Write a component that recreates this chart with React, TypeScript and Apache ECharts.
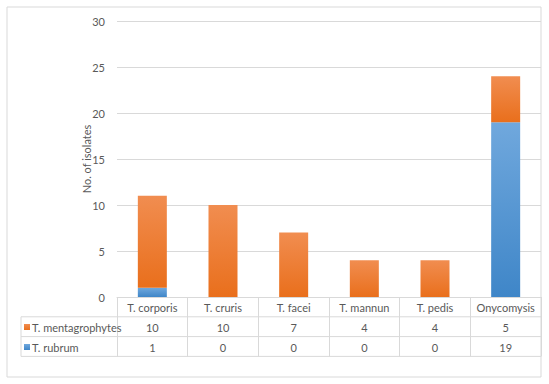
import React, { useEffect, useRef } from "react";
import * as echarts from "echarts";

const categories = ["T. corporis", "T. cruris", "T. facei", "T. mannun", "T. pedis", "Onycomysis"];
const mentagrophytes = [10, 10, 7, 4, 4, 5];
const rubrum = [1, 0, 0, 0, 0, 19];
const seriesNames = ["T. mentagrophytes", "T. rubrum"];
const yTitle = "No. of isolates";

const FONT = "Lato, 'Liberation Sans Narrow', sans-serif";
const TXT = "#595959";
const LINE = "#D9D9D9";

export default function App() {
  const ref = useRef<HTMLDivElement>(null);
  useEffect(() => {
    document.body.style.margin = "0";
    const chart = echarts.init(ref.current!, null, { renderer: "svg" });
    const orange = new echarts.graphic.LinearGradient(0, 0, 0, 1, [
      { offset: 0, color: "#F18D50" },
      { offset: 1, color: "#E96F1C" },
    ]);
    const blue = new echarts.graphic.LinearGradient(0, 0, 0, 1, [
      { offset: 0, color: "#70A8DD" },
      { offset: 1, color: "#3F86C8" },
    ]);
    const tableTop = 297;
    const rowH = 19.8;
    const leftX = 21;
    const rightX = 541;
    chart.setOption({
      animation: false,
      textStyle: { fontFamily: FONT },
      grid: { left: 117, right: 8, top: 21, bottom: 87 },
      legend: {
        orient: "vertical",
        left: 19,
        top: 316,
        itemWidth: 6,
        itemHeight: 6,
        itemGap: 8,
        icon: "rect",
        data: [seriesNames[0], seriesNames[1]],
        textStyle: { color: TXT, fontSize: 11, fontFamily: FONT, lineHeight: 12, padding: [0, 0, 0, -3] },
        selectedMode: false,
      },
      xAxis: {
        type: "category",
        data: categories,
        axisLine: { show: true, lineStyle: { color: LINE } },
        axisTick: { show: true, length: rowH * 3, interval: 0, lineStyle: { color: LINE } },
        axisLabel: {
          interval: 0,
          margin: 1,
          formatter: (v: string, i: number) =>
            `{a|${v}}\n{a|${mentagrophytes[i]}}\n{a|${rubrum[i]}}`,
          rich: {
            a: { fontSize: 11, lineHeight: rowH, color: TXT, fontFamily: FONT },
          },
        },
      },
      yAxis: {
        type: "value",
        min: 0,
        max: 30,
        interval: 5,
        name: yTitle,
        nameLocation: "middle",
        nameRotate: 90,
        nameGap: 25,
        nameMoveOverlap: false,
        nameTextStyle: { color: TXT, fontSize: 11, fontFamily: FONT },
        axisLine: { show: false },
        axisTick: { show: false },
        axisLabel: { color: TXT, fontSize: 11, margin: 12, fontFamily: FONT },
        splitLine: { lineStyle: { color: LINE } },
      },
      series: [
        {
          name: seriesNames[1],
          type: "bar",
          stack: "total",
          data: rubrum,
          barWidth: 29,
          itemStyle: { color: blue },
        },
        {
          name: seriesNames[0],
          type: "bar",
          stack: "total",
          data: mentagrophytes,
          barWidth: 29,
          itemStyle: { color: orange },
        },
      ],
      graphic: [
        {
          type: "rect",
          shape: { x: 7, y: 7, width: 534, height: 370 },
          style: { fill: "none", stroke: LINE, lineWidth: 1 },
          silent: true,
        },
        ...[1, 2, 3].map((k) => ({
          type: "line",
          shape: { x1: leftX, y1: tableTop + rowH * k, x2: rightX, y2: tableTop + rowH * k },
          style: { stroke: LINE, lineWidth: 1 },
          silent: true,
        })),
        {
          type: "line",
          shape: { x1: leftX, y1: tableTop + rowH, x2: leftX, y2: tableTop + rowH * 3 },
          style: { stroke: LINE, lineWidth: 1 },
          silent: true,
        },
      ],
    });
    return () => chart.dispose();
  }, []);
  return (
    <div
      ref={ref}
      style={{ position: "fixed", left: 0, top: 0, width: 549, height: 384, background: "#fff" }}
    />
  );
}
